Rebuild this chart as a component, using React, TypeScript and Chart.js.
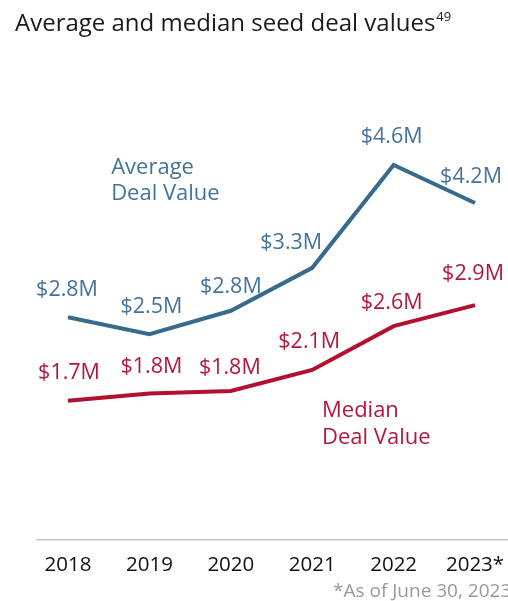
import React, { useEffect, useRef } from "react";
import { Chart, registerables } from "chart.js";

Chart.register(...registerables);

const categories = ["2018", "2019", "2020", "2021", "2022", "2023*"];
const averageValues = [2.75, 2.54, 2.83, 3.36, 4.63, 4.16];
const medianValues = [1.72, 1.81, 1.84, 2.1, 2.64, 2.9];
const averageLabels = ["$2.8M", "$2.5M", "$2.8M", "$3.3M", "$4.6M", "$4.2M"];
const medianLabels = ["$1.7M", "$1.8M", "$1.8M", "$2.1M", "$2.6M", "$2.9M"];
const seriesNames = [["Average", "Deal Value"], ["Median", "Deal Value"]];
const titleText = "Average and median seed deal values";
const titleNote = "49";
const footnote = "*As of June 30, 2023";

const BLUE = "#386a8d";
const BLUE_TEXT = "#44739a";
const RED = "#b3102f";
const RED_TEXT = "#b5173a";
const FONT = "'Open Sans', sans-serif";

// label offsets (px) relative to each point
const avgOffsets = [[-1, -27], [2, -27], [0, -24], [-21, -25], [-2, -28], [-4, -26]];
const medOffsets = [[1, -28], [2, -27], [-1, -23], [-3, -28], [-2, -23], [-2, -31]];

const labelPlugin = {
  id: "customLabels",
  afterDatasetsDraw(chart: any) {
    const ctx = chart.ctx;
    const xs = chart.scales.x;
    const ys = chart.scales.y;
    ctx.save();
    ctx.font = `21.5px ${FONT}`;
    ctx.textAlign = "center";
    ctx.textBaseline = "middle";
    chart.data.datasets.forEach((ds: any, di: number) => {
      const meta = chart.getDatasetMeta(di);
      const offs = di === 0 ? avgOffsets : medOffsets;
      ctx.fillStyle = di === 0 ? BLUE_TEXT : RED_TEXT;
      meta.data.forEach((pt: any, i: number) => {
        ctx.fillText(ds.valueLabels[i], pt.x + offs[i][0], pt.y + offs[i][1]);
      });
    });
    // series names
    ctx.font = `22px ${FONT}`;
    ctx.textAlign = "left";
    ctx.fillStyle = BLUE_TEXT;
    const ax = xs.getPixelForValue(0.53);
    const ay = ys.getPixelForValue(4.59);
    seriesNames[0].forEach((t, i) => ctx.fillText(t, ax, ay + i * 26));
    ctx.fillStyle = RED_TEXT;
    const mx = xs.getPixelForValue(3.12);
    const my = ys.getPixelForValue(1.6);
    seriesNames[1].forEach((t, i) => ctx.fillText(t, mx, my + i * 27));
    ctx.restore();
  },
  afterDraw(chart: any) {
    const ctx = chart.ctx;
    ctx.save();
    ctx.textBaseline = "alphabetic";
    ctx.textAlign = "left";
    ctx.fillStyle = "#1a1a1a";
    ctx.font = `24px ${FONT}`;
    ctx.fillText(titleText, 15, 31);
    const w = ctx.measureText(titleText).width;
    ctx.font = `13px ${FONT}`;
    ctx.fillText(titleNote, 15 + w + 1, 21);
    ctx.fillStyle = "#9a9a9a";
    ctx.font = `19px ${FONT}`;
    ctx.fillText(footnote, 333, 597);
    ctx.restore();
  },
};

export default function App() {
  const canvasRef = useRef<HTMLCanvasElement | null>(null);

  useEffect(() => {
    if (!canvasRef.current) return;
    const chart = new Chart(canvasRef.current, {
      type: "line",
      data: {
        datasets: [
          {
            label: "Average Deal Value",
            data: averageValues.map((v, i) => ({ x: i, y: v })),
            valueLabels: averageLabels,
            borderColor: BLUE,
            borderWidth: 4,
            pointRadius: 0,
            tension: 0,
            borderJoinStyle: "miter",
            clip: false,
          } as any,
          {
            label: "Median Deal Value",
            data: medianValues.map((v, i) => ({ x: i, y: v })),
            valueLabels: medianLabels,
            borderColor: RED,
            borderWidth: 4,
            pointRadius: 0,
            tension: 0,
            borderJoinStyle: "miter",
            clip: false,
          } as any,
        ],
      },
      options: {
        animation: false,
        responsive: false,
        maintainAspectRatio: false,
        layout: { padding: { left: 37, right: 0, top: 54, bottom: 26 } },
        plugins: {
          legend: { display: false },
          title: { display: false },
          tooltip: { enabled: false },
        },
        scales: {
          x: {
            type: "linear",
            min: -0.381,
            max: 5.405,
            afterBuildTicks: (scale: any) => {
              scale.ticks = categories.map((_, i) => ({ value: i }));
            },
            afterFit: (scale: any) => {
              scale.height = 35;
              scale.paddingLeft = 0;
              scale.paddingRight = 0;
            },
            ticks: {
              autoSkip: false,
              maxRotation: 0,
              padding: 13,
              color: "#111111",
              font: { family: FONT, size: 20.5 },
              callback: (v: any) => categories[v as number] ?? "",
            },
            grid: { display: false, drawTicks: false },
            border: { display: true, color: "#c4c4c4", width: 1.5 },
          },
          y: {
            display: false,
            min: 0,
            max: 6,
          },
        },
      },
      plugins: [labelPlugin],
    } as any);
    return () => chart.destroy();
  }, []);

  return (
    <div style={{ position: "absolute", left: 0, top: 0, width: 508, height: 601, background: "#fff" }}>
      <canvas ref={canvasRef} width={508} height={601} style={{ display: "block" }} />
    </div>
  );
}
